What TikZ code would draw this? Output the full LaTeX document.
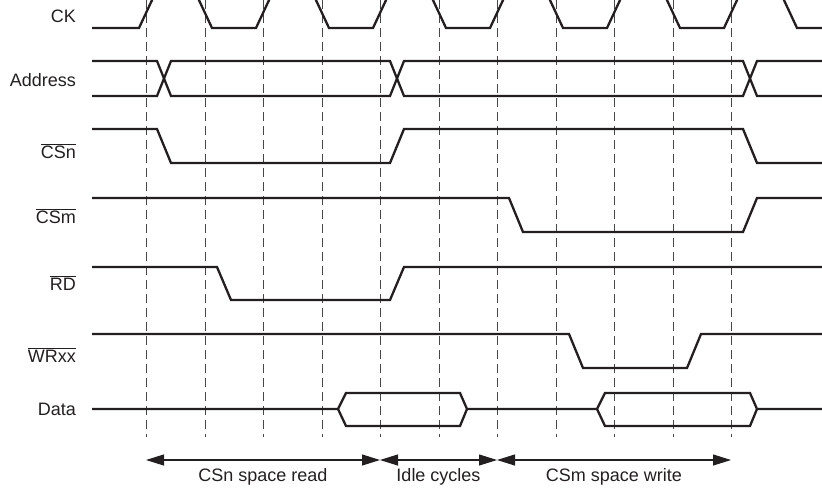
\documentclass[tikz,border=0pt]{standalone}
\usepackage{fontspec}
\setmainfont{Liberation Sans}
\usetikzlibrary{arrows.meta}
\definecolor{ink}{HTML}{231F20}
\begin{document}
\begin{tikzpicture}[x=1pt,y=-1pt,
  sig/.style={line width=2.3pt, draw=ink, line join=miter},
  gridline/.style={line width=1.2pt, draw=black!72, dash pattern=on 9pt off 5pt},
  lbl/.style={anchor=base east, inner sep=0pt, text=ink, font=\fontsize{18}{21}\selectfont},
  captxt/.style={anchor=base, inner sep=0pt, text=ink, font=\fontsize{18}{21}\selectfont},
  spanarrow/.style={line width=1.1pt, draw=ink, {Triangle[length=18pt,width=11pt]}-{Triangle[length=18pt,width=11pt]}}
]
\useasboundingbox (0,0) rectangle (822,488);
\clip (0,0) rectangle (822,488);
% dashed clock-edge reference lines
\foreach \x in {146.5,205.5,263.5,322.5,380.5,439.5,497.5,556.5,614.5,673.5,731.5} \draw[gridline] (\x,0) -- (\x,437);
% CK
\draw[sig] (92,28) -- (139,28) -- (153,-2) -- (198,-2) -- (212,28) -- (256,28) -- (270,-2) -- (315,-2) -- (329,28) -- (373,28) -- (387,-2) -- (432,-2) -- (446,28) -- (490,28) -- (504,-2) -- (549,-2) -- (563,28) -- (607,28) -- (621,-2) -- (666,-2) -- (680,28) -- (724,28) -- (738,-2) -- (783,-2) -- (797,28) -- (822,28);
% Address
\draw[sig] (92,61) -- (157,61) -- (171,96) -- (390,96) -- (404,61) -- (743,61) -- (757,96) -- (822,96);
\draw[sig] (92,96) -- (157,96) -- (171,61) -- (390,61) -- (404,96) -- (743,96) -- (757,61) -- (822,61);
% CSn
\draw[sig] (92,129) -- (157,129) -- (171,163) -- (390,163) -- (404,129) -- (743,129) -- (757,163) -- (822,163);
% CSm
\draw[sig] (92,198) -- (509,198) -- (523,232) -- (743,232) -- (757,198) -- (822,198);
% RD
\draw[sig] (92,267) -- (217,267) -- (231,300) -- (390,300) -- (404,267) -- (822,267);
% WRxx
\draw[sig] (92,334) -- (569,334) -- (583,368) -- (687,368) -- (701,334) -- (822,334);
% Data
\draw[sig] (92,409) -- (338,409) -- (346,393) -- (460,393) -- (467,409) -- (597,409) -- (605,393) -- (750,393) -- (757,409) -- (822,409);
\draw[sig] (338,409) -- (346,426) -- (460,426) -- (467,409);
\draw[sig] (597,409) -- (605,426) -- (750,426) -- (757,409);
% labels
\node[lbl] (ck) at (76,22) {CK};
\node[lbl] (addr) at (76,86) {Address};
\node[lbl] (csn) at (76,158) {$\overline{\mbox{CSn}}$};
\node[lbl] (csm) at (76,223) {$\overline{\mbox{CSm}}$};
\node[lbl] (rd) at (76,290) {$\overline{\mbox{RD}}$};
\node[lbl] (wr) at (76,362) {$\overline{\mbox{WRxx}}$};
\node[lbl] (data) at (76,415) {Data};
% bottom spans
\coordinate (p0) at (146,460);
\coordinate (p1) at (380,460);
\coordinate (p2) at (497,460);
\coordinate (p3) at (731,460);
\draw[spanarrow] (p0) -- (p1);
\draw[spanarrow] (p1) -- (p2);
\draw[spanarrow] (p2) -- (p3);
\node[captxt] (t1) at (263,481) {CSn space read};
\node[captxt] (t2) at (438.5,481) {Idle cycles};
\node[captxt] (t3) at (614,481) {CSm space write};
\end{tikzpicture}
\end{document}
